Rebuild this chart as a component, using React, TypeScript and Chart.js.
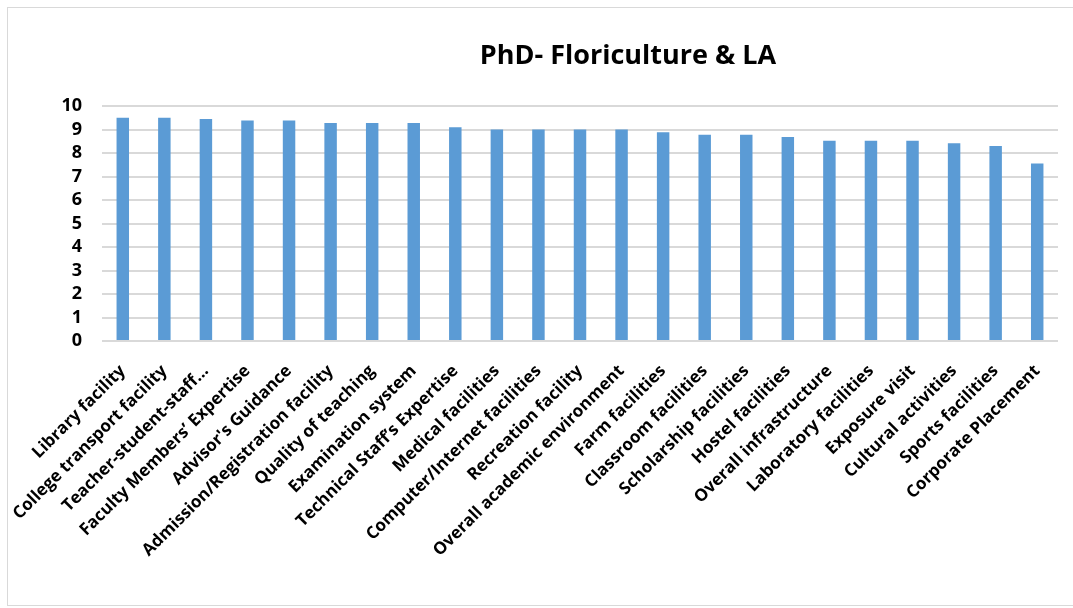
import React, { useEffect, useRef } from "react";
import { Chart, registerables } from "chart.js";

Chart.register(...registerables);

const TITLE = "PhD- Floriculture & LA";

const categories: string[] = [
  "Library facility",
  "College transport facility",
  "Teacher-student-staff…",
  "Faculty Members’ Expertise",
  "Advisor's Guidance",
  "Admission/Registration facility",
  "Quality of teaching",
  "Examination system",
  "Technical Staff’s Expertise",
  "Medical facilities",
  "Computer/Internet facilities",
  "Recreation facility",
  "Overall academic environment",
  "Farm facilities",
  "Classroom facilities",
  "Scholarship facilities",
  "Hostel facilities",
  "Overall infrastructure",
  "Laboratory facilities",
  "Exposure visit",
  "Cultural activities",
  "Sports facilities",
  "Corporate Placement",
];

const scores: number[] = [
  9.5, 9.5, 9.45, 9.38, 9.38, 9.28, 9.28, 9.28, 9.1, 9.0, 9.0, 9.0, 9.0,
  8.88, 8.78, 8.78, 8.68, 8.52, 8.52, 8.52, 8.42, 8.3, 7.55,
];

const yTicks: number[] = [0, 1, 2, 3, 4, 5, 6, 7, 8, 9, 10];

const FONT = "'Open Sans', Lato, sans-serif";

export default function App() {
  const ref = useRef<HTMLCanvasElement | null>(null);

  useEffect(() => {
    if (!ref.current) return;
    const titlePlugin = {
      id: "customTitle",
      afterDraw(chart: any) {
        const ctx = chart.ctx;
        ctx.save();
        ctx.font = `bold 27px ${FONT}`;
        ctx.fillStyle = "#000";
        ctx.textAlign = "center";
        ctx.textBaseline = "middle";
        ctx.fillText(TITLE, 620, 48);
        ctx.restore();
      },
    };
    const chart = new Chart(ref.current, {
      type: "bar",
      data: {
        labels: categories,
        datasets: [
          {
            data: scores,
            backgroundColor: "#5b9bd5",
            barPercentage: 0.3,
            categoryPercentage: 1,
          },
        ],
      },
      options: {
        animation: false,
        responsive: false,
        maintainAspectRatio: false,
        layout: { padding: { top: 98, right: 15, left: 0, bottom: 0 } },
        plugins: {
          legend: { display: false },
          title: { display: false },
          tooltip: { enabled: false },
        },
        scales: {
          x: {
            grid: { display: false },
            border: { display: false },
            ticks: {
              autoSkip: false,
              maxRotation: 45,
              minRotation: 45,
              color: "#000",
              padding: 12,
              font: { family: FONT, size: 17, weight: "bold" },
            },
            afterFit(scale: any) {
              scale.height = 264;
            },
          },
          y: {
            min: 0,
            max: 10,
            afterBuildTicks(scale: any) {
              scale.ticks = yTicks.map((v) => ({ value: v }));
            },
            grid: { color: "#d9d9d9", lineWidth: 2, drawTicks: false },
            border: { display: false },
            ticks: {
              autoSkip: false,
              stepSize: 1,
              color: "#000",
              padding: 20,
              font: { family: FONT, size: 18, weight: "bold" },
            },
            afterFit(scale: any) {
              scale.width = 94;
            },
          },
        },
      },
      plugins: [titlePlugin],
    });
    return () => chart.destroy();
  }, []);

  return (
    <div
      style={{
        position: "absolute",
        left: 7,
        top: 7,
        width: 1066,
        height: 599,
        boxSizing: "border-box",
        borderTop: "1px solid #d9d9d9",
        borderLeft: "1px solid #d9d9d9",
        borderBottom: "1px solid #d9d9d9",
        background: "#fff",
      }}
    >
      <canvas ref={ref} width={1065} height={597} style={{ display: "block" }} />
    </div>
  );
}
